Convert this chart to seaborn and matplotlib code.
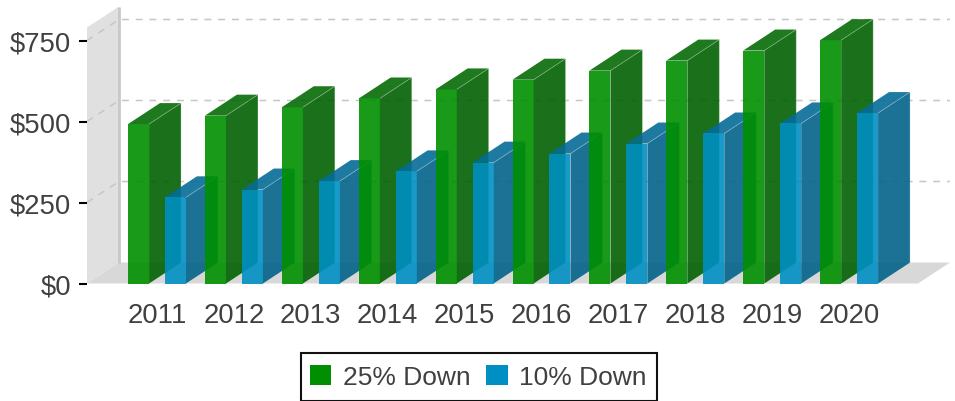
import pandas as pd
import matplotlib
matplotlib.use("Agg")
import matplotlib.pyplot as plt
from matplotlib.patches import Patch, Polygon, Rectangle
import seaborn as sns

# Data
years = ["2011", "2012", "2013", "2014", "2015", "2016", "2017", "2018", "2019", "2020"]
down_25 = [492, 518, 544, 571, 599, 629, 657, 688, 719, 751]
down_10 = [266, 290, 316, 346, 373, 401, 432, 463, 494, 526]
series_names = ["25% Down", "10% Down"]
y_ticks = [0, 250, 500, 750]
y_labels = ["$0", "$250", "$500", "$750"]

# Colours: front, side, top
colors = {"25% Down": ("#008f00", "#026002", "#066b06"),
          "10% Down": ("#008fc2", "#02638a", "#056c96")}
text_color = "#404040"

W, H = 955, 402
BAR_ALPHA = 0.9

sns.set_theme(style="white")
plt.rcParams["font.family"] = ["Liberation Sans", "DejaVu Sans"]

df = pd.DataFrame({"year": years, "25% Down": down_25, "10% Down": down_10})
df = df.melt(id_vars="year", var_name="series", value_name="price")

fig = plt.figure(figsize=(W / 100, H / 100), dpi=100)
ax = fig.add_axes([87 / W, (H - 284.5) / H, (W - 87) / W, 284.5 / H])

# one category = 76.9 px, one dollar = 0.324 px
px_x = 76.9
px_y = 0.324

# depth of the fake 3D
depth_x = 32 / px_x
depth_y = 21 / px_y

sns.barplot(data=df, x="year", y="price", hue="series", order=years, hue_order=series_names,
            palette={k: v[0] for k, v in colors.items()}, saturation=1, alpha=BAR_ALPHA,
            width=0.96, gap=0.43, legend=False, linewidth=0, edgecolor="none", ax=ax)
ax.set_xlim((87 - 157) / px_x, (W - 157) / px_x)
ax.set_ylim(0, 284.5 / px_y)
bars = sorted(ax.patches, key=lambda b: b.get_x())

# walls and floor
x0 = ax.get_xlim()[0]
x1 = (918 - 157) / px_x
wall_top = 790
ax.add_patch(Polygon([(x0, 0), (x0, wall_top), (x0 + depth_x, wall_top + depth_y), (x0 + depth_x, depth_y)],
                     closed=True, fc="#e0e0e0", ec="none", zorder=0.1, clip_on=False))
ax.add_patch(Polygon([(x0, 0), (x0 + depth_x, depth_y), (x1 + depth_x, depth_y), (x1, 0)],
                     closed=True, fc="#d8d8d8", ec="none", zorder=0.1, clip_on=False))
ax.plot([x0 + depth_x] * 2, [depth_y, wall_top + depth_y], color="#c8c8c8", lw=2.0,
        solid_capstyle="butt", zorder=0.2)

# gridlines on the wall and the back plane
for v in y_ticks[1:]:
    ax.plot([x0, x0 + depth_x, x1 + depth_x], [v, v + depth_y, v + depth_y], color="#c6c6c6",
            lw=1.1, dashes=(4.5, 4.5), zorder=0.3)

# side and top of each bar, painted left to right
for i, b in enumerate(bars):
    left = b.get_x()
    right = left + b.get_width()
    top = b.get_height()
    name = series_names[i % 2]
    z = 1 + i
    ax.add_patch(Polygon([(right, 0), (right + depth_x, depth_y), (right + depth_x, top + depth_y), (right, top)],
                         closed=True, fc=colors[name][1], ec="none", alpha=BAR_ALPHA, zorder=z))
    ax.add_patch(Polygon([(left, top), (left + depth_x, top + depth_y), (right + depth_x, top + depth_y), (right, top)],
                         closed=True, fc=colors[name][2], ec="none", alpha=BAR_ALPHA, zorder=z + 0.1))
    ax.plot([right, right + depth_x, right + depth_x], [top, top + depth_y, depth_y], color="white",
            alpha=0.25, lw=0.7, zorder=z + 0.2)
    b.set_zorder(z + 0.3)

for s in ax.spines.values():
    s.set_visible(False)

ax.set_xlabel("")
ax.set_ylabel("")
ax.set_yticks(y_ticks)
ax.set_yticklabels(y_labels)
ax.tick_params(axis="y", left=True, length=5.5, width=1.5, color="black", pad=6, labelsize=19.8, labelcolor=text_color)
ax.tick_params(axis="x", bottom=False, pad=7.5, labelsize=19.8, labelcolor=text_color)
ax.patch.set_alpha(0)

handles = [Patch(fc=colors[n][0], ec="none") for n in series_names]
leg = fig.legend(handles, series_names, ncol=2, loc="center", bbox_to_anchor=(478 / W, (H - 378) / H),
                 fontsize=19, frameon=False,
                 handlelength=0.83, handleheight=0.83, handletextpad=0.42, columnspacing=0.6,
                 borderpad=0.38, labelcolor=text_color, borderaxespad=0)
fig.add_artist(Rectangle((300.5 / W, 0), 356 / W, 48.5 / H, transform=fig.transFigure, fill=False,
                         ec="#111111", lw=1.5))

fig.savefig("out.png", dpi=100)
